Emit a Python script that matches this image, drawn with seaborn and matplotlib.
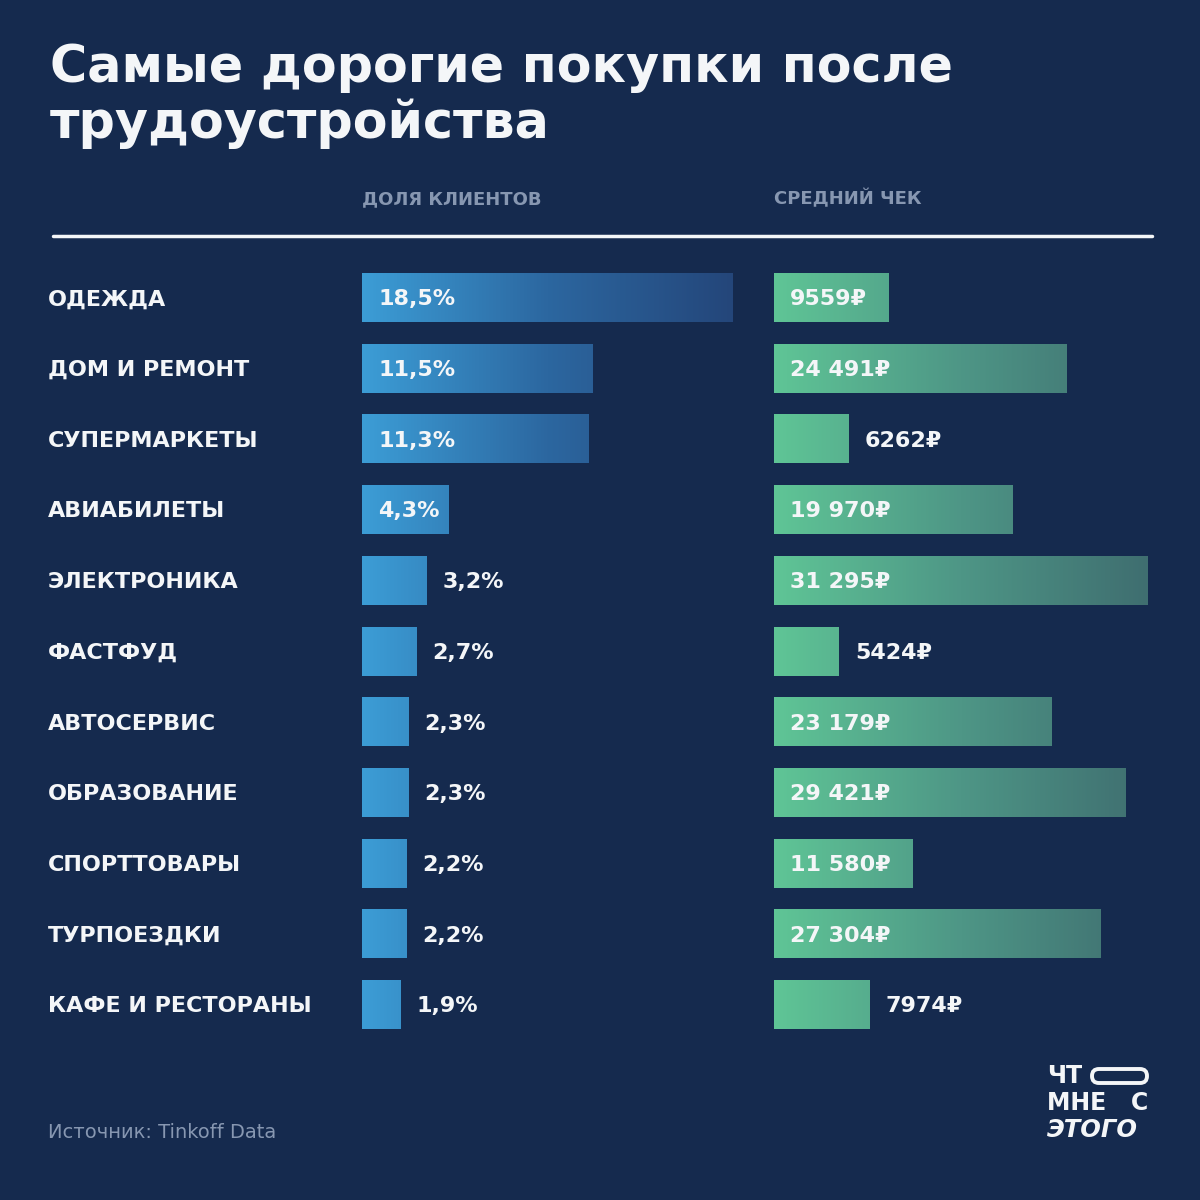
import numpy as np
import pandas as pd
import matplotlib.pyplot as plt
import matplotlib.transforms as mtransforms
from matplotlib.colors import LinearSegmentedColormap
from matplotlib.patches import FancyBboxPatch
import seaborn as sns

# Data
categories = ['ОДЕЖДА', 'ДОМ И РЕМОНТ', 'СУПЕРМАРКЕТЫ', 'АВИАБИЛЕТЫ', 'ЭЛЕКТРОНИКА',
              'ФАСТФУД', 'АВТОСЕРВИС', 'ОБРАЗОВАНИЕ', 'СПОРТТОВАРЫ', 'ТУРПОЕЗДКИ',
              'КАФЕ И РЕСТОРАНЫ']
share = [18.5, 11.5, 11.3, 4.3, 3.2, 2.7, 2.3, 2.3, 2.2, 2.2, 1.9]
check = [9559, 24491, 6262, 19970, 31295, 5424, 23179, 29421, 11580, 27304, 7974]

BG = '#152a4e'
WHITE = '#f4f6f8'
GREY = '#8797b1'

blue_cmap = LinearSegmentedColormap.from_list('blue', ['#3c9dd6', '#2c67a0', '#24467a'])
green_cmap = LinearSegmentedColormap.from_list('green', ['#5fc596', '#4e9686', '#3f6e70'])


def fmt_share(v):
    return f'{v:.1f}'.replace('.', ',') + '%'


def fmt_rub(v):
    if v >= 10000:
        return f'{v:,}'.replace(',', ' ') + '₽'
    return f'{v}₽'


def gradient_bars(ax, cmap, vmax):
    for p in list(ax.patches):
        x0, y0, w, h = p.get_x(), p.get_y(), p.get_width(), p.get_height()
        grad = np.linspace(x0, x0 + w, 256).reshape(1, -1)
        ax.imshow(grad, extent=(x0, x0 + w, y0 + h, y0), aspect='auto',
                  cmap=cmap, vmin=0, vmax=vmax, zorder=2, interpolation='bilinear')
        p.set_visible(False)


def draw_panel(ax, values, labels, cmap, vmax, inside_min):
    df = pd.DataFrame({'cat': categories, 'val': values})
    sns.barplot(data=df, x='val', y='cat', orient='h', ax=ax, color='#3c9dd6',
                width=0.68, saturation=1)
    gradient_bars(ax, cmap, vmax)
    ax.set_xlim(0, vmax)
    ax.set_ylim(len(categories) - 0.5, -0.5)
    ax.axis('off')
    px = vmax / (ax.get_position().width * 1200)
    for i, (v, lab) in enumerate(zip(values, labels)):
        x = 16 * px if v >= inside_min else v + 16 * px
        ax.text(x, i + 0.02, lab, color=WHITE, fontsize=16,
                fontweight='bold', va='center', ha='left', zorder=3)


sns.set_theme(style='white')
plt.rcParams['font.family'] = ['DejaVu Sans']

fig = plt.figure(figsize=(12, 12), dpi=100, facecolor=BG)

ax1 = fig.add_axes([362 / 1200, 1 - 1040.4 / 1200, 371 / 1200, 777.8 / 1200])
ax2 = fig.add_axes([774 / 1200, 1 - 1040.4 / 1200, 374 / 1200, 777.8 / 1200])
for ax in (ax1, ax2):
    ax.set_facecolor(BG)

draw_panel(ax1, share, [fmt_share(v) for v in share], blue_cmap, 18.5, 4.0)
draw_panel(ax2, check, [fmt_rub(v) for v in check], green_cmap, 31295, 9000)

# category names on the left
trans = mtransforms.blended_transform_factory(fig.transFigure, ax1.transData)
for i, c in enumerate(categories):
    ax1.text(48 / 1200, i + 0.02, c, transform=trans, color=WHITE, fontsize=16,
             fontweight='bold', va='center', ha='left')

# title
fig.text(50 / 1200, 1 - 68 / 1200, 'Самые дорогие покупки после', color=WHITE,
         fontsize=36.5, fontweight='bold', va='center', ha='left')
fig.text(50 / 1200, 1 - 124 / 1200, 'трудоустройства', color=WHITE,
         fontsize=36.5, fontweight='bold', va='center', ha='left')

# column headers and rule
fig.text(362 / 1200, 1 - 199 / 1200, 'ДОЛЯ КЛИЕНТОВ', color=GREY, fontsize=13,
         fontweight='bold', va='center', ha='left')
fig.text(774 / 1200, 1 - 199 / 1200, 'СРЕДНИЙ ЧЕК', color=GREY, fontsize=13,
         fontweight='bold', va='center', ha='left')
fig.add_artist(plt.Line2D([53 / 1200, 1152 / 1200], [1 - 236 / 1200, 1 - 236 / 1200],
                          color=WHITE, linewidth=2.5, transform=fig.transFigure))

# source
fig.text(48 / 1200, 1 - 1133 / 1200, 'Источник: Tinkoff Data', color=GREY,
         fontsize=14, va='center', ha='left')

# logo
fig.text(1047 / 1200, 1 - 1076 / 1200, 'ЧТ', color=WHITE, fontsize=17,
         fontweight='bold', va='center', ha='left')
fig.text(1047 / 1200, 1 - 1103 / 1200, 'МНЕ   С', color=WHITE, fontsize=17,
         fontweight='bold', va='center', ha='left')
fig.text(1047 / 1200, 1 - 1130 / 1200, 'ЭТОГО', color=WHITE, fontsize=17.5,
         fontweight='bold', va='center', ha='left', style='italic')
pill = FancyBboxPatch((1092 / 1200, 1 - 1083 / 1200), 55 / 1200, 14 / 1200,
                      boxstyle='round,pad=0,rounding_size=0.0058',
                      transform=fig.transFigure, facecolor='none',
                      edgecolor=WHITE, linewidth=2.8)
fig.add_artist(pill)

fig.savefig('out.png', dpi=100, facecolor=BG)
